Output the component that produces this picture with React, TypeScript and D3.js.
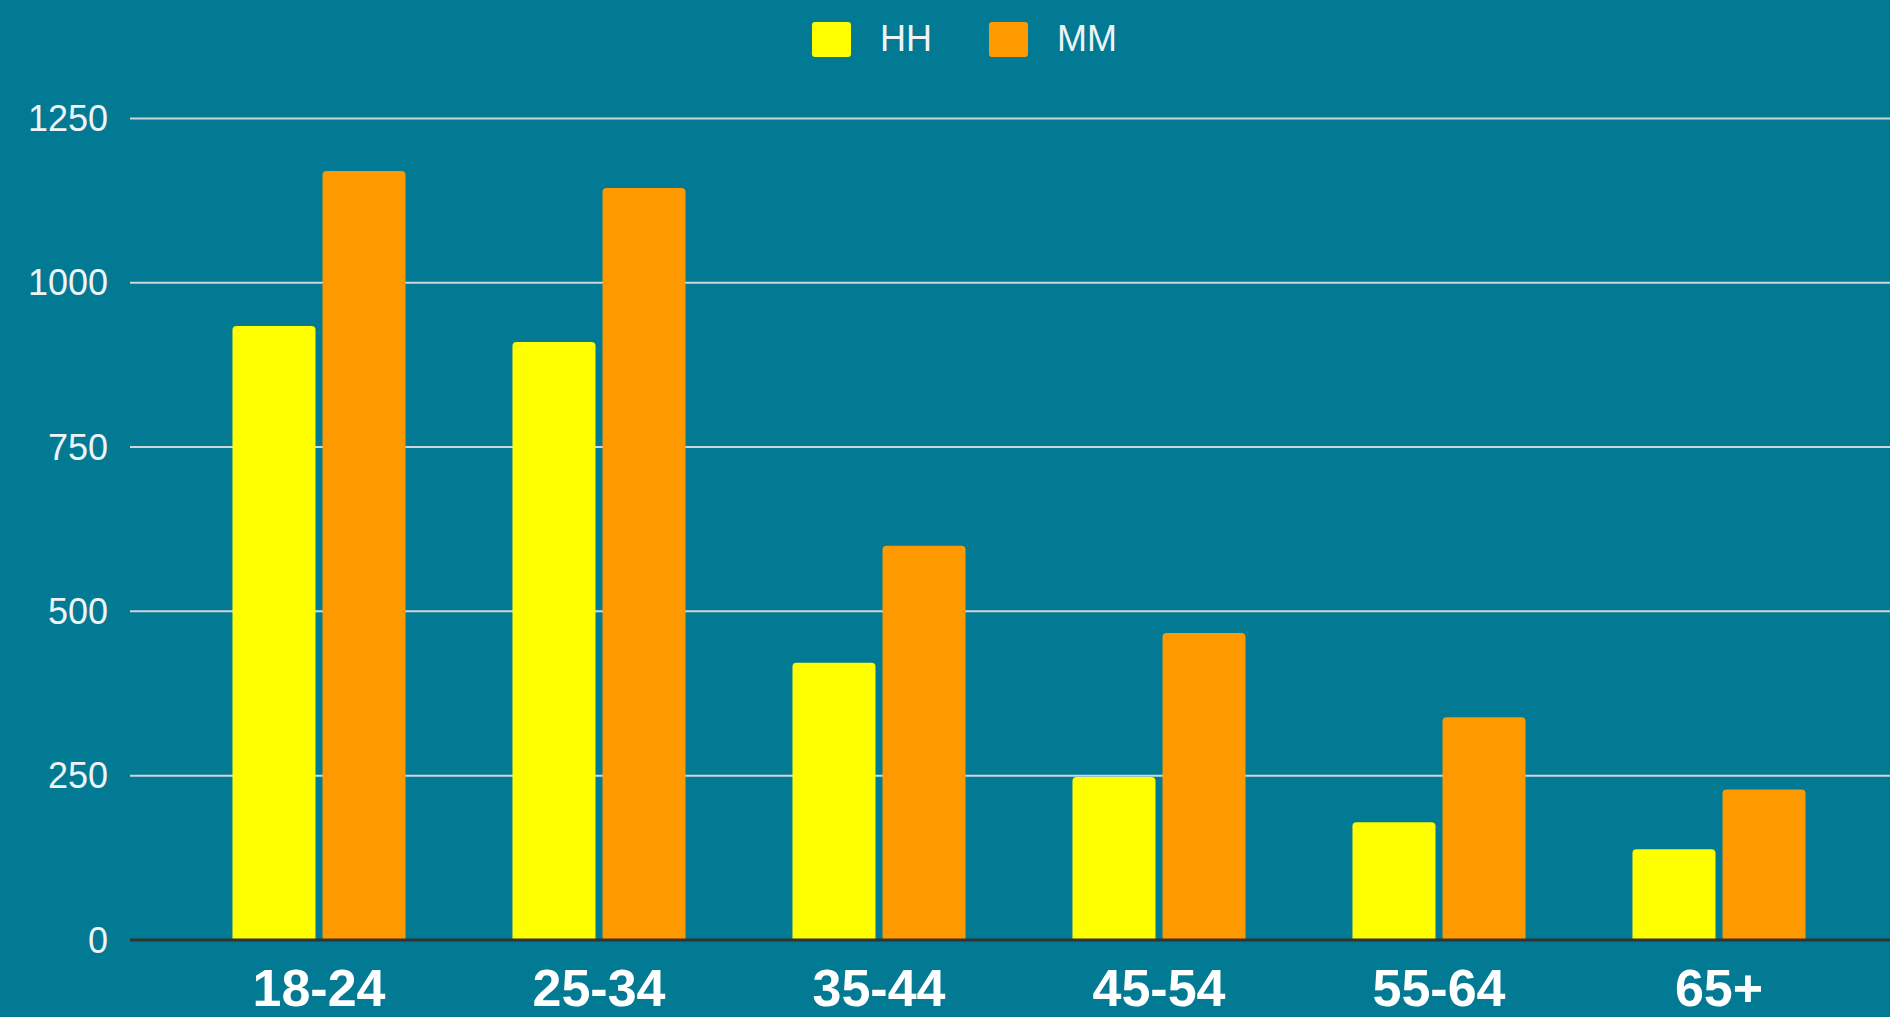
import * as d3 from "d3";
import { useEffect, useRef } from "react";

const ageGroups = ["18-24", "25-34", "35-44", "45-54", "55-64", "65+"];
const seriesNames = ["HH", "MM"];
const hhValues = [934, 910, 422, 248, 179, 138];
const mmValues = [1170, 1144, 600, 467, 339, 229];
const yTicks = [0, 250, 500, 750, 1000, 1250];
const seriesColors = ["#ffff00", "#ff9900"];

const W = 1890;
const H = 1017;
const BG = "#037a93";

function topRoundedBar(x: number, y: number, w: number, h: number, r: number) {
    const rr = Math.min(r, h / 2, w / 2);
    return `M${x},${y + h}V${y + rr}Q${x},${y} ${x + rr},${y}H${x + w - rr}Q${x + w},${y} ${x + w},${y + rr}V${y + h}Z`;
}

function App() {
    const ref = useRef<SVGSVGElement>(null);

    useEffect(() => {
        const svg = d3.select(ref.current);
        svg.selectAll("*").remove();

        const font = "'Liberation Sans', Arial, sans-serif";

        // background
        svg.append("rect").attr("width", W).attr("height", H).attr("fill", BG);

        const plotLeft = 130;
        const plotRight = W;

        // scales
        const y = d3.scaleLinear().domain([0, 1250]).range([940, 118.4]);

        const x0 = d3.scaleBand<string>()
            .domain(ageGroups)
            .range([179, 1859])
            .paddingInner(0.382)
            .paddingOuter(0.191);

        const x1 = d3.scaleBand<string>()
            .domain(seriesNames)
            .range([0, x0.bandwidth()])
            .paddingInner(0.078);

        // gridlines
        svg.append("g")
            .selectAll("line")
            .data(yTicks.filter(t => t > 0))
            .enter()
            .append("line")
            .attr("x1", plotLeft)
            .attr("x2", plotRight)
            .attr("y1", d => y(d))
            .attr("y2", d => y(d))
            .attr("stroke", "#cfd6d8")
            .attr("stroke-width", 2);

        // y tick labels
        svg.append("g")
            .selectAll("text")
            .data(yTicks)
            .enter()
            .append("text")
            .attr("x", 108)
            .attr("y", d => y(d))
            .attr("dy", "0.35em")
            .attr("text-anchor", "end")
            .attr("font-family", font)
            .attr("font-size", 36)
            .attr("fill", "#eef4f6")
            .text(d => String(d));

        // bars
        const rows = ageGroups.map((g, i) => ({
            group: g,
            values: [
                { key: "HH", value: hhValues[i] },
                { key: "MM", value: mmValues[i] },
            ],
        }));

        const color = d3.scaleOrdinal<string>().domain(seriesNames).range(seriesColors);

        svg.append("g")
            .selectAll("g")
            .data(rows)
            .enter()
            .append("g")
            .attr("transform", d => `translate(${x0(d.group)},0)`)
            .selectAll("path")
            .data(d => d.values)
            .enter()
            .append("path")
            .attr("d", d =>
                topRoundedBar(x1(d.key)!, y(d.value), x1.bandwidth(), y(0) - y(d.value), 4)
            )
            .attr("fill", d => color(d.key));

        // baseline
        svg.append("line")
            .attr("x1", plotLeft)
            .attr("x2", plotRight)
            .attr("y1", y(0))
            .attr("y2", y(0))
            .attr("stroke", "#333333")
            .attr("stroke-width", 3);

        // x labels
        svg.append("g")
            .selectAll("text")
            .data(ageGroups)
            .enter()
            .append("text")
            .attr("x", d => x0(d)! + x0.bandwidth() / 2)
            .attr("y", 1006)
            .attr("text-anchor", "middle")
            .attr("font-family", font)
            .attr("font-weight", "bold")
            .attr("font-size", 52)
            .attr("fill", "#ffffff")
            .text(d => d);

        // legend
        const legendX = [812, 989];
        const legend = svg.append("g")
            .selectAll("g")
            .data(seriesNames)
            .enter()
            .append("g")
            .attr("transform", (d, i) => `translate(${legendX[i]},22)`);

        legend.append("rect")
            .attr("width", 39)
            .attr("height", 35)
            .attr("rx", 3)
            .attr("fill", d => color(d));

        legend.append("text")
            .attr("x", 68)
            .attr("y", 29)
            .attr("font-family", font)
            .attr("font-size", 36)
            .attr("fill", "#eef4f6")
            .text(d => d);
    }, []);

    return (
        <svg
            ref={ref}
            width={W}
            height={H}
            style={{ position: "absolute", left: 0, top: 0, display: "block" }}
        />
    );
}

export default App;
